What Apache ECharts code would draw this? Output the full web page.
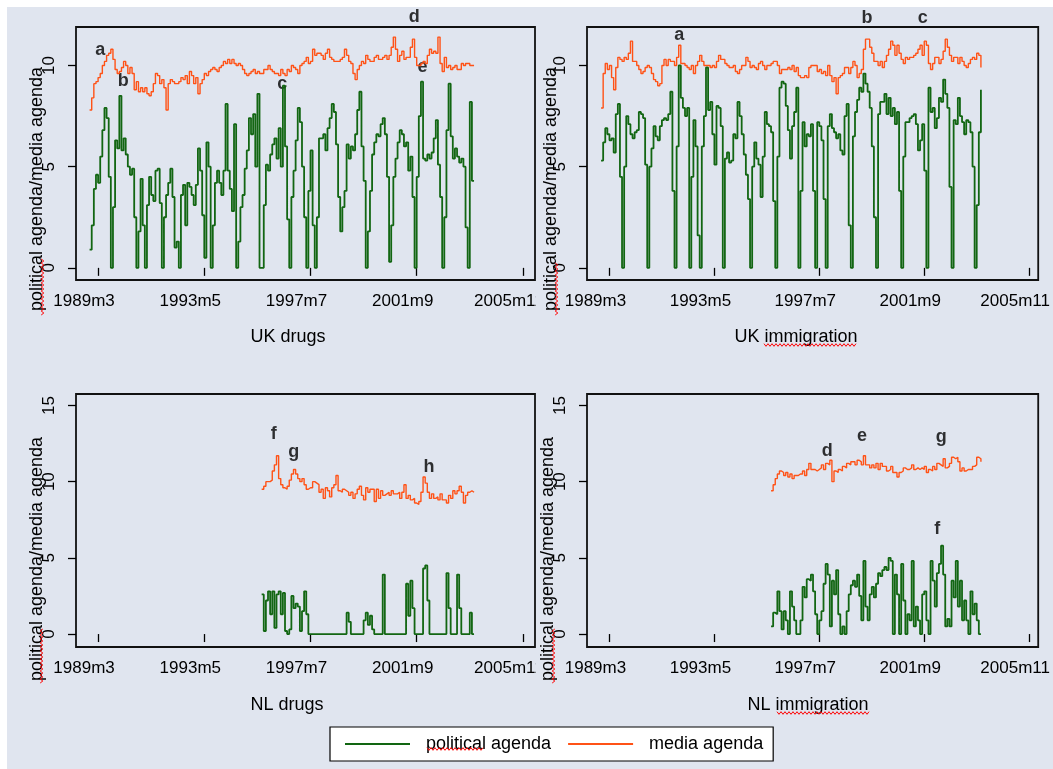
<!DOCTYPE html>
<html lang="en">
<head>
<meta charset="UTF-8">
<title>Political and media agenda</title>
<script src="https://cdn.jsdelivr.net/npm/echarts@6/dist/echarts.min.js"></script>
<style>
  html, body { margin: 0; padding: 0; background: #fff; }
  #main { width: 1053px; height: 769px; }
</style>
</head>
<body>
<div id="main"></div>
<script>
// months are Stata %tm numbers (1960m1 = 0)
var ukStart = 346;   // 1988m11
var nlStart = 427;   // 1995m8

var tickValues = [350, 400, 450, 500, 550];
var tickLabels = ['1989m3', '1993m5', '1997m7', '2001m9', '2005m11'];

var ukDrugsPolitical = [
  0.9, 2.1, 3.9, 4.6, 4.2, 5.5, 6.8, 7.9, 7.4, 4.5,
  0, 3.0, 6.3, 5.9, 8.5, 5.8, 6.4, 5.6, 5.0, 4.6,
  4.9, 2.5, 0, 1.8, 4.4, 2.1, 0, 3.1, 4.5, 3.6,
  3.3, 4.8, 4.9, 3.2, 0, 2.5, 3.6, 4.2, 4.9, 3.5,
  1.0, 1.3, 0, 3.6, 4.1, 2.1, 4.2, 4.0, 3.6, 3.1,
  4.1, 5.9, 4.8, 2.6, 0.5, 6.2, 5.0, 0, 2.1, 4.2,
  4.8, 4.2, 3.6, 4.8, 8.1, 4.8, 3.9, 2.8, 7.1, 0,
  1.3, 3.0, 3.6, 4.9, 5.8, 7.4, 6.6, 7.6, 5.0, 8.6,
  0, 0, 3.1, 5.1, 4.8, 5.6, 6.1, 6.4, 5.4, 6.9,
  5.0, 9.0, 6.0, 2.4, 0, 3.5, 4.8, 6.3, 7.9, 7.2,
  5.0, 2.5, 0, 3.8, 5.8, 2.1, 0, 2.5, 6.4, 6.4,
  6.6, 5.8, 6.9, 7.4, 8.1, 7.7, 6.1, 3.5, 1.8, 3.0,
  3.8, 6.1, 5.4, 6.0, 5.8, 6.6, 7.8, 8.7, 6.0, 4.3,
  0, 1.8, 3.8, 5.6, 6.2, 6.6, 6.5, 7.1, 7.4, 6.6,
  4.5, 0.3, 2.1, 4.5, 5.4, 6.2, 6.8, 6.6, 6.0, 6.2,
  4.8, 5.5, 3.5, 0, 4.5, 7.5, 9.2, 5.4, 5.3, 5.6,
  5.4, 5.7, 6.4, 7.3, 5.1, 3.5, 0, 2.5, 6.8, 9.1,
  6.5, 5.4, 5.9, 5.5, 5.2, 5.4, 5.0, 2.0, 0, 8.2,
  4.3, 4.3
];
var ukDrugsMedia = [
  7.8, 8.4, 9.1, 9.2, 9.4, 9.6, 10.0, 10.2, 10.5, 10.6,
  10.8, 10.3, 9.8, 9.6, 9.7, 9.9, 10.2, 10.0, 9.6, 9.9,
  9.6, 8.8, 9.2, 8.7, 8.9, 8.7, 8.9, 8.6, 8.5, 8.7,
  9.1, 9.6, 9.5, 9.1, 9.3, 8.9, 7.8, 9.1, 9.3, 9.2,
  9.1, 9.1, 9.2, 9.4, 9.3, 9.5, 9.1, 9.7, 9.5, 9.1,
  9.4, 8.6, 9.1, 9.3, 9.6, 9.5, 9.7, 9.8, 9.9, 9.8,
  9.7, 9.9, 10.0, 10.2, 10.1, 10.3, 10.1, 10.3, 10.1, 10.0,
  10.1, 10.0, 9.8, 9.6, 9.5, 9.6, 9.7, 9.8, 9.6, 9.7,
  9.6, 9.6, 9.8, 9.8, 10.0, 9.8, 9.7, 9.6, 9.6, 9.5,
  9.8, 9.6, 9.5, 9.8, 9.7, 10.0, 9.9, 9.8, 9.6, 10.0,
  10.1, 10.2, 10.4, 10.1, 10.2, 10.8, 10.5, 10.6, 10.6, 10.5,
  10.3, 10.6, 10.8, 10.4, 10.3, 10.2, 10.2, 10.2, 10.3, 10.4,
  10.8, 10.5, 10.2, 10.1, 9.6, 9.3, 9.8, 10.0, 10.2, 10.1,
  10.5, 10.3, 10.2, 10.2, 10.4, 10.5, 10.3, 10.3, 10.4, 10.5,
  10.3, 10.5, 10.9, 11.4, 10.8, 10.2, 10.5, 10.7, 10.3, 10.4,
  10.4, 10.9, 11.3, 10.4, 10.0, 10.0, 10.1, 10.2, 10.1, 10.5,
  10.8, 10.6, 10.7, 10.6, 11.4, 10.1, 9.7, 10.4, 9.9, 10.0,
  9.8, 9.9, 10.0, 9.8, 9.8, 10.1, 10.0, 10.1, 10.1, 10.0,
  10.0, 10.0
];
var ukImmPolitical = [
  5.3, 6.2, 6.9, 6.6, 6.3, 6.4, 5.7, 7.6, 8.1, 4.5,
  0, 5.0, 7.5, 7.1, 6.6, 6.4, 6.7, 6.8, 7.7, 7.6,
  7.4, 5.1, 0, 5.0, 5.9, 7.0, 6.5, 6.3, 7.0, 7.3,
  7.4, 7.3, 7.6, 8.7, 3.8, 0, 6.0, 10.0, 8.4, 7.9,
  7.5, 7.9, 0, 4.5, 7.3, 6.0, 1.6, 0, 6.0, 7.5,
  9.9, 7.8, 8.2, 6.6, 5.1, 8.0, 7.9, 7.0, 0, 5.4,
  5.7, 5.2, 5.3, 6.6, 6.4, 8.2, 7.5, 6.6, 5.6, 4.6,
  3.4, 0, 5.0, 6.2, 5.4, 5.1, 3.5, 5.5, 7.7, 7.1,
  7.0, 6.7, 3.3, 0, 5.5, 8.9, 9.2, 9.1, 8.0, 6.8,
  5.4, 7.0, 7.7, 8.9, 0, 3.8, 7.2, 6.0, 6.6, 6.5,
  7.1, 3.8, 0, 7.2, 7.0, 6.3, 3.4, 0, 7.0, 7.6,
  6.9, 6.7, 6.4, 6.6, 5.8, 5.6, 7.5, 8.1, 2.1, 0,
  6.5, 7.7, 8.3, 8.9, 8.7, 9.6, 9.1, 8.7, 7.9, 6.0,
  2.5, 0, 7.6, 8.2, 8.2, 8.6, 7.6, 8.4, 7.5, 7.9,
  7.1, 7.7, 3.8, 0, 5.5, 7.2, 7.2, 7.4, 7.5, 7.6,
  7.1, 5.8, 6.3, 7.1, 4.8, 0, 8.9, 7.7, 7.9, 6.9,
  7.4, 8.4, 8.2, 9.3, 8.6, 7.9, 4.0, 0, 7.3, 7.1,
  8.4, 7.5, 7.2, 6.6, 7.3, 7.2, 6.7, 5.0, 0, 3.1,
  6.7, 8.8
];
var ukImmMedia = [
  7.9, 9.6, 10.1, 9.8, 10.0, 9.4, 8.8, 9.9, 10.4, 10.3,
  10.2, 10.4, 10.3, 10.6, 11.2, 10.2, 10.2, 10.0, 9.8, 9.6,
  9.7, 9.9, 10.0, 9.9, 9.6, 9.3, 9.2, 9.0, 9.1, 10.0,
  10.3, 10.0, 10.3, 10.2, 10.2, 10.0, 10.4, 11.0, 10.1, 10.1,
  10.0, 9.9, 9.8, 10.0, 9.6, 10.0, 10.2, 10.5, 10.2, 10.0,
  10.0, 10.0, 9.9, 10.0, 9.9, 10.2, 10.5, 10.3, 10.3, 10.1,
  10.0, 9.9, 9.9, 10.0, 9.7, 9.6, 9.8, 10.0, 10.0, 10.4,
  10.2, 9.9, 10.0, 9.9, 9.8, 10.1, 10.2, 10.0, 9.8, 10.0,
  10.0, 10.1, 10.2, 10.2, 10.0, 9.6, 9.8, 9.8, 9.8, 9.9,
  9.8, 10.0, 9.7, 9.9, 9.5, 9.4, 9.4, 9.5, 9.4, 9.9,
  10.0, 10.0, 10.0, 9.7, 9.8, 9.6, 9.7, 9.5, 10.0, 9.5,
  9.2, 9.4, 8.6, 9.4, 9.5, 9.6, 9.9, 9.9, 9.6, 9.9,
  10.2, 10.0, 9.4, 9.6, 9.8, 10.8, 11.3, 11.3, 10.9, 10.6,
  10.2, 10.2, 10.0, 10.2, 9.9, 10.2, 10.5, 10.8, 11.2, 11.0,
  10.5, 11.0, 10.6, 10.3, 10.1, 10.4, 10.3, 10.4, 10.4, 10.5,
  10.6, 10.8, 11.0, 10.5, 11.2, 11.0, 10.1, 9.8, 10.1, 10.4,
  10.4, 10.1, 10.3, 10.7, 11.3, 10.9, 10.5, 10.2, 10.4, 10.4,
  10.1, 10.4, 10.2, 10.0, 9.9, 10.1, 10.3, 10.4, 10.3, 10.6,
  10.5, 9.9
];
var nlDrugsPolitical = [
  2.6, 0.2, 2.2, 2.8, 1.3, 2.8, 0.4, 2.6, 2.8, 1.3,
  2.7, 0.2, 0, 0.3, 2.5, 1.7, 2.0, 1.8, 0.2, 1.5,
  2.8, 1.3, 0, 0, 0, 0, 0, 0, 0, 0,
  0, 0, 0, 0, 0, 0, 0, 0, 0, 0,
  1.4, 0.8, 0, 0, 0, 0, 0, 0, 0.9, 1.4,
  0.6, 1.2, 0.3, 0, 0, 0, 0, 3.9, 0, 0,
  0, 0, 0, 0, 0, 0, 0, 0, 3.3, 1.2,
  3.5, 1.7, 0, 0, 0, 0, 4.3, 4.5, 2.2, 0,
  0, 0, 0, 0, 0, 0, 0, 4.0, 1.7, 0,
  0, 0, 3.9, 1.7, 0, 0, 0, 0, 1.4, 0,
  0
];
var nlDrugsMedia = [
  9.5, 9.7, 10.0, 10.0, 10.1, 10.7, 11.1, 11.7, 10.2, 9.8,
  9.6, 9.5, 9.7, 10.1, 10.5, 10.8, 10.5, 10.2, 10.0, 10.2,
  9.8, 9.5, 9.6, 9.6, 10.0, 9.9, 9.8, 9.3, 9.5, 8.9,
  9.6, 9.4, 9.0, 9.6, 9.8, 10.4, 9.4, 9.3, 9.5, 9.4,
  9.3, 9.1, 9.3, 8.9, 9.2, 9.5, 9.7, 9.1, 8.8, 9.6,
  9.3, 9.5, 9.5, 8.7, 9.5, 8.9, 9.4, 9.1, 9.2, 9.3,
  9.1, 9.4, 9.2, 9.2, 9.3, 8.9, 9.3, 9.8, 8.9, 9.1,
  8.8, 8.9, 8.6, 8.5, 8.7, 9.3, 10.3, 9.9, 9.3, 8.9,
  9.2, 8.9, 9.0, 8.8, 9.2, 8.8, 8.8, 8.6, 9.1, 8.9,
  9.4, 9.2, 9.4, 9.7, 9.3, 8.6, 9.1, 9.3, 9.4, 9.3,
  9.3
];
var nlImmPolitical = [
  0.5, 1.4, 1.3, 2.8, 1.5, 0.3, 1.5, 0.9, 0, 2.8,
  1.8, 0.9, 0, 0, 0.9, 3.1, 2.4, 3.6, 3.5, 3.9,
  2.8, 1.3, 0, 0.9, 1.5, 3.3, 4.6, 3.9, 0.5, 3.5,
  2.6, 4.2, 1.3, 0, 0.5, 0, 1.5, 2.6, 3.2, 3.5,
  3.1, 3.9, 2.5, 0.9, 4.8, 1.8, 0.9, 2.6, 3.1, 2.4,
  3.3, 4.0, 3.8, 4.2, 4.4, 4.2, 5.0, 4.8, 0, 3.9,
  2.6, 0, 4.6, 2.2, 0, 1.3, 0.9, 4.8, 0.5, 1.8,
  0.9, 0, 2.6, 2.8, 0.9, 0, 4.8, 3.5, 1.8, 4.0,
  4.6, 5.8, 3.9, 0.5, 1.0, 0.5, 3.5, 2.4, 4.8, 1.8,
  3.5, 0.9, 2.2, 0.9, 0, 2.8, 1.3, 2.0, 0.9, 0,
  0
];
var nlImmMedia = [
  9.4, 9.8, 10.2, 10.5, 10.7, 10.6, 10.4, 10.6, 10.3, 10.5,
  10.2, 10.4, 10.4, 10.5, 10.5, 10.7, 10.4, 10.8, 11.2, 10.8,
  10.8, 10.7, 10.8, 10.9, 11.1, 10.8, 11.2, 11.1, 11.4, 10.0,
  10.7, 10.6, 10.8, 10.7, 11.0, 10.9, 11.2, 11.1, 11.3, 11.3,
  11.1, 11.4, 11.3, 11.1, 11.7, 11.1, 11.1, 10.9, 11.1, 10.9,
  11.2, 10.8, 11.2, 11.0, 11.0, 10.7, 10.8, 11.0, 10.6, 10.6,
  10.3, 10.6, 10.7, 10.9, 10.8, 10.8, 10.9, 11.1, 10.8, 10.9,
  10.8, 10.9, 10.8, 11.0, 10.6, 10.8, 10.7, 11.0, 10.8, 11.2,
  11.1, 11.0, 11.5, 10.9, 11.0, 11.2, 11.6, 11.5, 11.6, 11.3,
  10.7, 10.9, 10.7, 10.8, 10.8, 10.8, 11.0, 11.1, 11.6, 11.5,
  11.3
];

// letter annotations: [month, value, letter]
var ukDrugsLetters = [[351, 10.74, 'a'], [361.9, 9.22, 'b'], [436.7, 9.09, 'c'], [498.8, 12.41, 'd'], [502.7, 9.92, 'e']];
var ukImmLetters = [[383.2, 11.5, 'a'], [472.7, 12.36, 'b'], [499.3, 12.36, 'c']];
var nlDrugsLetters = [[432.7, 13.12, 'f'], [442.1, 11.92, 'g'], [505.8, 10.98, 'h']];
var nlImmLetters = [[453.8, 12.0, 'd'], [470.3, 13.0, 'e'], [508.1, 12.95, 'g'], [506.2, 6.87, 'f']];

var panelTitles = ['UK drugs', 'UK immigration', 'NL drugs', 'NL immigration'];

var FONT = "'Liberation Sans', Arial, sans-serif";
var BG = '#e0e5ef';
var GREEN = '#126612';
var ORANGE = '#ff5216';

function pairs(start, vals) {
  return vals.map(function (v, i) { return [start + i, v]; });
}

var panels = [
  { pol: pairs(ukStart, ukDrugsPolitical), med: pairs(ukStart, ukDrugsMedia), letters: ukDrugsLetters,
    grid: { left: 76, top: 27, width: 459, height: 253 }, x: [339.6, 555.7], y: [-0.6, 11.9], yt: [0, 5, 10] },
  { pol: pairs(ukStart, ukImmPolitical), med: pairs(ukStart, ukImmMedia), letters: ukImmLetters,
    grid: { left: 587, top: 27, width: 455, height: 253 }, x: [339.3, 554.3], y: [-0.6, 11.9], yt: [0, 5, 10] },
  { pol: pairs(nlStart, nlDrugsPolitical), med: pairs(nlStart, nlDrugsMedia), letters: nlDrugsLetters,
    grid: { left: 76, top: 394, width: 459, height: 253 }, x: [339.6, 555.7], y: [-0.85, 15.75], yt: [0, 5, 10, 15] },
  { pol: pairs(nlStart, nlImmPolitical), med: pairs(nlStart, nlImmMedia), letters: nlImmLetters,
    grid: { left: 587, top: 394, width: 455, height: 253 }, x: [339.3, 554.3], y: [-0.85, 15.75], yt: [0, 5, 10, 15] }
];

var grids = [], xAxes = [], yAxes = [], series = [];
panels.forEach(function (p, i) {
  grids.push(Object.assign({ show: true, borderColor: '#111', borderWidth: 1.8, backgroundColor: 'transparent' }, p.grid));
  xAxes.push({
    type: 'value', gridIndex: i, min: p.x[0], max: p.x[1],
    axisLine: { show: false },
    axisTick: { show: true, customValues: tickValues, length: 8, lineStyle: { color: '#000', width: 1.3 } },
    axisLabel: {
      customValues: tickValues, margin: 13, fontSize: 17, fontFamily: FONT, color: '#000',
      padding: [0, 28, 0, 0],
      formatter: function (v) { return tickLabels[tickValues.indexOf(v)]; }
    },
    splitLine: { show: false }
  });
  yAxes.push({
    type: 'value', gridIndex: i, min: p.y[0], max: p.y[1],
    axisLine: { show: false },
    axisTick: { show: true, customValues: p.yt, length: 8, lineStyle: { color: '#000', width: 1.3 } },
    axisLabel: { customValues: p.yt, rotate: 90, margin: 18, fontSize: 17, fontFamily: FONT, color: '#000' },
    splitLine: { show: false }
  });
  series.push({
    name: 'political agenda', type: 'line', step: 'end', xAxisIndex: i, yAxisIndex: i,
    data: p.pol, showSymbol: false, symbol: 'none',
    itemStyle: { color: GREEN }, lineStyle: { color: GREEN, width: 1.8 }
  });
  series.push({
    name: 'media agenda', type: 'line', step: 'end', xAxisIndex: i, yAxisIndex: i,
    data: p.med, showSymbol: false, symbol: 'none',
    itemStyle: { color: ORANGE }, lineStyle: { color: ORANGE, width: 1.4 }
  });
  series.push({
    name: 'letters' + i, type: 'scatter', xAxisIndex: i, yAxisIndex: i, clip: false,
    symbolSize: 1, itemStyle: { color: 'rgba(0,0,0,0)' },
    data: p.letters.map(function (l) { return { value: [l[0], l[1]], name: l[2] }; }),
    label: { show: true, position: 'inside', formatter: '{b}', fontSize: 18, fontWeight: 'bold', fontFamily: FONT, color: '#000' }
  });
});

// red spell-check squiggles of the screenshot
function squiggle(x0, y0, len, vertical) {
  var pts = [];
  for (var i = 0; i <= len; i += 2) {
    var off = (i / 2) % 2 ? 1.3 : -1.3;
    pts.push(vertical ? [x0 + off, y0 - i] : [x0 + i, y0 + off]);
  }
  return { type: 'polyline', shape: { points: pts }, style: { stroke: '#ff0000', lineWidth: 1, fill: null }, z: 10 };
}

function ytitle(x, y) {
  return {
    type: 'text', x: x, y: y, rotation: Math.PI / 2, z: 5,
    style: { text: 'political agenda/media agenda', font: '18px ' + FONT, fill: '#000',
      align: 'center', verticalAlign: 'middle', textAlign: 'center', textVerticalAlign: 'middle' }
  };
}
function xtitle(text, x, y) {
  return {
    type: 'text', x: x, y: y, z: 5,
    style: { text: text, font: '18px ' + FONT, fill: '#000',
      align: 'center', verticalAlign: 'middle', textAlign: 'center', textVerticalAlign: 'middle' }
  };
}
// the left panels' last tick label is cut off by the right panels in the original
function cover(y) {
  return { type: 'rect', shape: { x: 536, y: y, width: 12, height: 28 }, style: { fill: BG }, z: 3, silent: true };
}

var graphics = [
  { type: 'rect', shape: { x: 7, y: 7, width: 1046, height: 762 }, style: { fill: BG }, z: -100, silent: true },
  cover(290), cover(658),
  ytitle(37, 189), ytitle(551, 189), ytitle(37, 559), ytitle(548, 559),
  xtitle(panelTitles[0], 288, 337), xtitle(panelTitles[1], 796, 337),
  xtitle(panelTitles[2], 287, 705), xtitle(panelTitles[3], 808, 705),
  squiggle(42.5, 315, 57, true), squiggle(556.5, 315, 53, true),
  squiggle(41.5, 683, 55, true), squiggle(553.5, 683, 55, true),
  squiggle(764, 345, 93, false), squiggle(777, 713, 93, false),
  squiggle(427, 749, 57, false)
];

var chart = echarts.init(document.getElementById('main'), null, { renderer: 'canvas' });
chart.setOption({
  animation: false,
  backgroundColor: '#fff',
  grid: grids,
  xAxis: xAxes,
  yAxis: yAxes,
  legend: {
    data: ['political agenda', 'media agenda'],
    left: 330, top: 727, orient: 'horizontal',
    icon: 'rect', itemWidth: 65, itemHeight: 2, itemGap: 17,
    padding: [8, 10, 8, 15],
    backgroundColor: '#fff', borderColor: '#000', borderWidth: 1.2,
    selectedMode: false,
    textStyle: { fontSize: 18, fontFamily: FONT, color: '#000', padding: [0, 0, 0, 11] }
  },
  graphic: graphics,
  series: series
});
</script>
</body>
</html>
